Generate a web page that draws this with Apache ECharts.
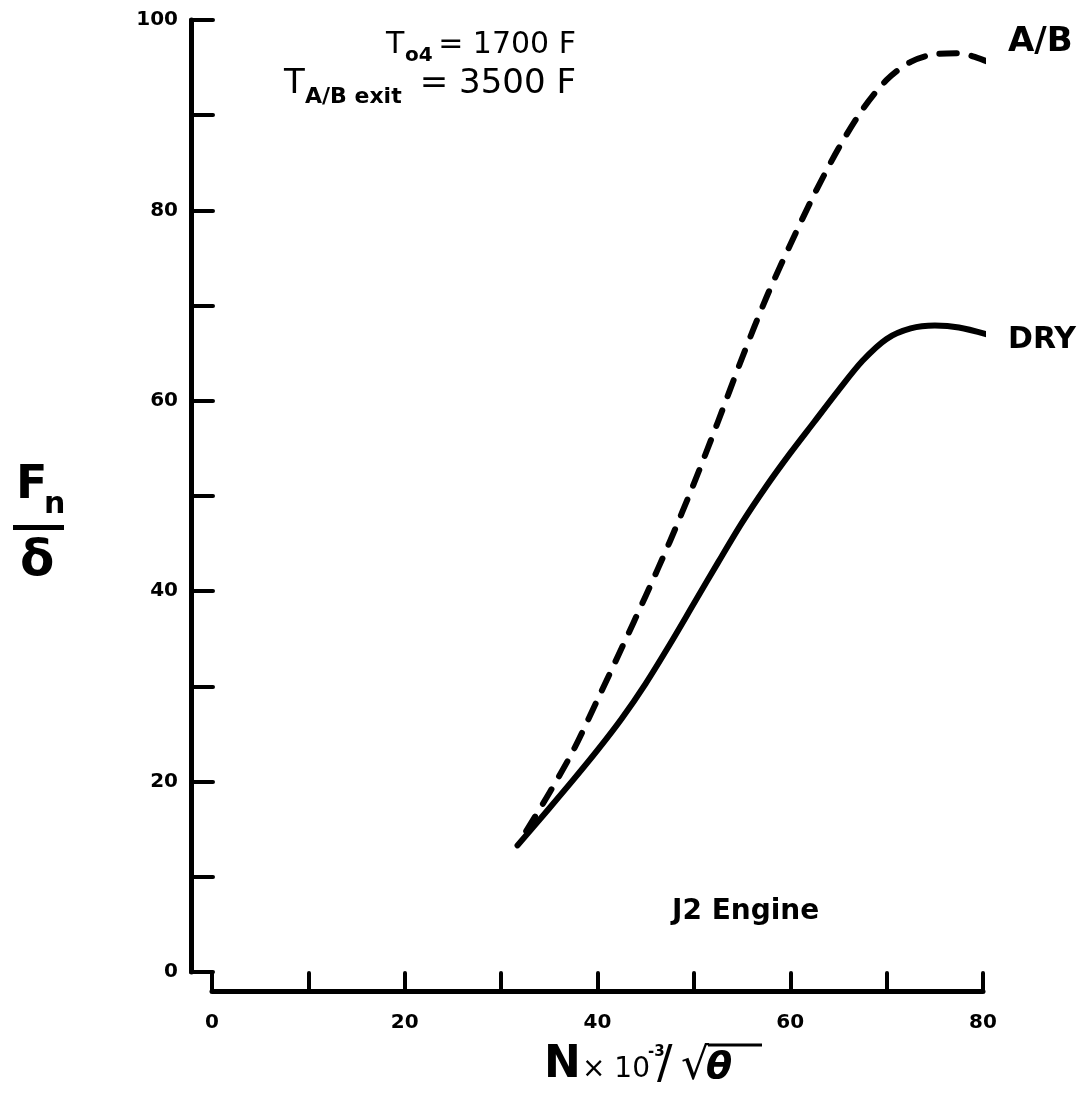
<!DOCTYPE html>
<html>
<head>
<meta charset="utf-8">
<script src="https://cdn.jsdelivr.net/npm/echarts@6/dist/echarts.min.js"></script>
<style>
  html, body { margin: 0; padding: 0; background: #fff; }
  #chart { width: 1092px; height: 1095px; }
</style>
</head>
<body>
<div id="chart"></div>
<script>
// Corrected speed N x 10^-3 / sqrt(theta) and net thrust Fn / delta, J2 engine
const dryX = [31.7, 35.0, 37.5, 40.0, 42.5, 45.0, 47.5, 50.0, 52.5, 55.0, 57.5, 60.0, 62.5, 65.0, 67.5, 70.0, 72.5, 75.0, 77.5, 80.7];
const dryY = [13.3, 17.2, 20.2, 23.3, 26.6, 30.3, 34.4, 38.7, 43.0, 47.2, 51.0, 54.5, 57.8, 61.1, 64.2, 66.5, 67.6, 67.9, 67.7, 66.9];

const abX = [32.6, 35.0, 37.5, 40.0, 42.5, 45.0, 47.5, 50.0, 52.5, 55.0, 57.5, 60.0, 62.5, 65.0, 67.5, 70.0, 72.5, 75.0, 77.5, 79.5, 81.0];
const abY = [14.8, 18.8, 23.3, 28.6, 34.0, 39.5, 45.2, 51.3, 57.8, 64.5, 70.8, 76.4, 81.7, 86.5, 90.6, 93.7, 95.6, 96.4, 96.5, 96.0, 95.4];

const xRange = [0, 80];
const yRange = [0, 100];
const tickStep = 10;
const labelStep = 20;

const FONT = '"DejaVu Sans", sans-serif';

function pairs(xs, ys) {
  return xs.map((x, i) => [x, ys[i]]);
}

function txt(text, x, y, size, weight, extra) {
  return {
    type: 'text',
    style: Object.assign({
      text: text, x: x, y: y,
      font: (weight || 'normal') + ' ' + size + 'px ' + FONT,
      fill: '#000',
      textVerticalAlign: 'middle'
    }, extra || {})
  };
}

const chart = echarts.init(document.getElementById('chart'), null, { renderer: 'canvas' });

const axisCommon = {
  type: 'value',
  interval: tickStep,
  splitLine: { show: false },
  axisLine: { show: true, onZero: false, lineStyle: { color: '#000', width: 5, cap: 'round' } },
  axisLabel: {
    color: '#000',
    fontFamily: FONT,
    fontWeight: 'bold',
    fontSize: 20,
    formatter: v => (v % labelStep === 0 ? String(v) : '')
  }
};

chart.setOption({
  animation: false,
  backgroundColor: '#fff',
  grid: { left: 212, right: 109, top: 20, bottom: 123 },
  xAxis: Object.assign({}, axisCommon, {
    min: xRange[0], max: xRange[1],
    offset: 19,
    axisTick: { show: true, inside: true, length: 18, lineStyle: { color: '#000', width: 4, cap: 'round' } },
    axisLabel: Object.assign({}, axisCommon.axisLabel, { margin: 22 })
  }),
  yAxis: Object.assign({}, axisCommon, {
    min: yRange[0], max: yRange[1],
    offset: 21,
    axisTick: { show: true, inside: true, length: 22, lineStyle: { color: '#000', width: 4, cap: 'round' } },
    axisLabel: Object.assign({}, axisCommon.axisLabel, { margin: 13 })
  }),
  series: [
    {
      name: 'DRY',
      type: 'line',
      data: pairs(dryX, dryY),
      smooth: 0.3,
      showSymbol: false,
      lineStyle: { color: '#000', width: 6, cap: 'round', join: 'round' }
    },
    {
      name: 'A/B',
      type: 'line',
      data: pairs(abX, abY),
      smooth: 0.3,
      showSymbol: false,
      lineStyle: { color: '#000', width: 6, type: [17, 15], cap: 'round', join: 'round' }
    }
  ],
  graphic: [
    // operating conditions
    txt('T', 386, 45, 30, 'normal'),
    txt('o4', 405, 56, 20, 'bold'),
    txt('= 1700 F', 576, 45, 30, 'normal', { textAlign: 'right' }),
    txt('T', 284, 84, 34, 'normal'),
    txt('A/B exit', 305, 97, 22, 'bold'),
    txt('= 3500 F', 576, 84, 34, 'normal', { textAlign: 'right' }),
    // curve names
    txt('A/B', 1008, 42, 34, 'bold'),
    txt('DRY', 1008, 340, 30, 'bold'),
    txt('J2 Engine', 672, 912, 28, 'bold'),
    // y-axis title: Fn over delta
    txt('F', 16, 486, 46, 'bold'),
    txt('n', 44, 505, 30, 'bold'),
    { type: 'rect', shape: { x: 13, y: 525, width: 51, height: 5 }, style: { fill: '#000' } },
    txt('δ', 20, 562, 50, 'bold'),
    // x-axis title: N x 10^-3 / sqrt(theta)
    txt('N', 544, 1066, 44, 'bold'),
    txt('× 10', 582, 1070, 28, 'normal'),
    txt('-3', 648, 1052, 15, 'bold'),
    txt('/', 657, 1066, 46, 'normal'),
    txt('√', 681, 1068, 44, 'normal'),
    txt('θ', 706, 1068, 38, 'bold italic'),
    { type: 'line', shape: { x1: 708, y1: 1045, x2: 762, y2: 1045 }, style: { stroke: '#000', lineWidth: 3 } }
  ]
});
</script>
</body>
</html>
